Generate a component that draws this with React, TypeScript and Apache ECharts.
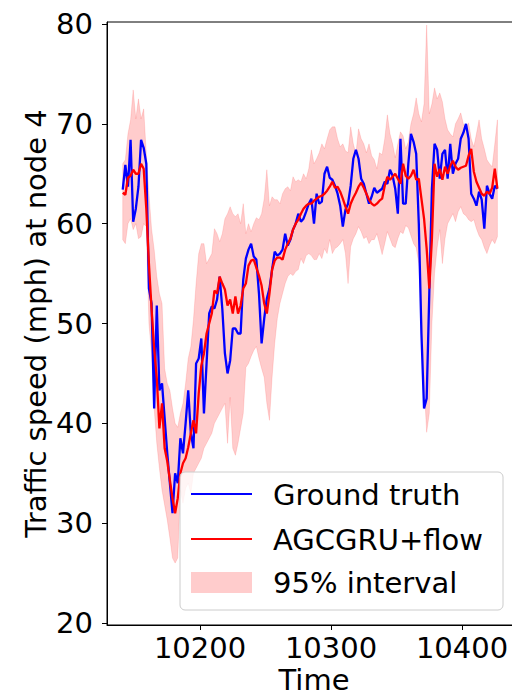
import React, { useEffect, useRef } from "react";
import * as echarts from "echarts";

// Time grid: first time step and spacing between sampled points
const T_START = 10141;
const T_STEP = 2;

const xTicks = [10200, 10300, 10400];
const yTicks = [20, 30, 40, 50, 60, 70, 80];

// Ground truth speed (mph)
const groundTruth = [
  63.4, 65.9, 63.7, 68.4, 60.2, 61.5, 63.7, 68.4, 67.6, 66.0,
  53.5, 52.0, 41.5, 51.8, 43.3, 44.0, 40.5, 37.0, 34.0, 31.0,
  35.0, 34.0, 38.5, 37.0, 40.0, 43.3, 39.0, 37.5, 46.0, 46.5,
  48.5, 41.0, 46.0, 51.0, 51.7, 51.5, 52.4, 54.7, 51.5, 47.0,
  45.0, 46.3, 49.5, 49.5, 49.0, 49.0, 54.4, 56.5, 57.4, 58.0,
  56.7, 56.4, 53.0, 48.0, 50.5, 52.5, 53.5, 55.4, 57.2, 56.8,
  57.0, 57.4, 59.0, 57.8, 58.4, 59.4, 60.0, 61.0, 60.2, 60.5,
  61.2, 62.0, 62.5, 60.0, 63.0, 62.0, 62.2, 65.0, 65.7, 64.6,
  64.4, 63.8, 63.0, 61.8, 59.7, 61.4, 62.0, 63.8, 66.5, 67.4,
  66.5, 64.5, 64.0, 63.0, 62.0, 62.7, 63.6, 63.1, 63.3, 63.5,
  64.2, 64.0, 65.4, 64.8, 63.5, 61.0, 68.5, 62.0, 62.0, 66.0,
  69.0, 68.2, 67.0, 60.0, 49.0, 41.5, 42.5, 53.0, 63.5, 68.0,
  67.4, 64.5, 67.0, 67.4, 64.5, 68.0, 65.0, 66.0, 66.5, 68.5,
  69.1, 70.0, 68.5, 63.0, 62.5, 61.8, 63.2, 62.4, 59.5, 63.8,
  63.0, 62.5, 63.8, 63.5,
];

// AGCGRU+flow prediction (mph)
const prediction = [
  63.1, 62.9, 64.6, 64.8, 65.4, 65.0, 65.0, 66.0, 65.5, 61.5,
  56.0, 51.5, 47.5, 44.5, 39.5, 42.0, 37.5, 36.2, 34.3, 32.5,
  31.0, 32.5, 35.0, 36.0, 36.5, 37.6, 39.0, 40.3, 39.0, 43.0,
  45.8, 47.0, 49.0, 50.0, 51.0, 53.3, 53.0, 54.7, 54.0, 53.4,
  51.8, 52.4, 51.0, 52.7, 51.0, 51.8, 53.5, 54.0, 55.8, 56.3,
  56.4, 55.6, 54.8, 53.8, 52.0, 51.0, 53.0, 55.4, 56.3, 56.6,
  56.6, 56.4, 57.4, 58.0, 58.5, 59.4, 60.0, 60.4, 61.0, 61.5,
  61.8, 62.0, 62.0, 62.3, 62.5, 62.7, 62.8, 63.0, 63.3, 63.7,
  64.2, 63.6, 63.7, 63.2, 62.5, 61.7, 61.0, 62.0, 62.6, 63.1,
  63.7, 64.1, 63.6, 63.0, 62.4, 62.0, 61.8, 62.0, 62.3, 62.5,
  63.8, 64.7, 64.4, 64.7, 65.0, 64.5, 64.0, 66.0, 64.8, 64.5,
  64.8, 65.4, 64.4, 64.5, 62.5, 60.5, 57.5, 53.5, 58.5, 66.0,
  64.7, 65.5, 64.4, 65.7, 65.0, 65.8, 66.3, 65.7, 65.4, 65.6,
  65.7, 65.8, 66.8, 67.5, 65.2, 64.2, 63.6, 63.0, 62.8, 63.2,
  63.0, 63.6, 65.5, 63.5,
];

// 95% interval bounds (mph)
const upperBound = [
  66.0, 66.4, 69.0, 70.4, 73.4, 70.5, 72.5, 70.5, 71.5, 67.0,
  63.0, 59.5, 57.4, 54.7, 53.0, 52.0, 45.5, 44.0, 43.3, 41.5,
  40.0, 39.6, 41.0, 42.0, 44.0, 46.5, 47.7, 50.4, 54.0, 57.0,
  58.0, 58.0, 56.0, 56.5, 57.0, 59.5, 59.0, 58.2, 59.0, 60.5,
  61.0, 61.7, 61.0, 60.7, 61.0, 60.0, 62.0, 59.0, 60.0, 59.2,
  60.0, 60.6, 60.4, 61.0, 62.5, 65.4, 61.8, 62.7, 62.4, 62.4,
  62.0, 63.0, 63.5, 63.7, 63.3, 64.7, 64.2, 64.4, 64.2, 65.0,
  64.5, 65.5, 67.4, 66.0, 66.5, 67.1, 68.0, 67.5, 68.5, 69.4,
  69.7, 69.7, 68.5, 67.7, 68.0, 67.3, 67.1, 69.7, 68.0, 67.0,
  69.5, 68.5, 68.0, 67.1, 68.0, 66.8, 66.4, 65.5, 67.1, 66.9,
  68.5, 70.9, 69.0, 68.0, 66.6, 68.0, 69.2, 68.8, 67.5, 68.2,
  70.0, 71.0, 72.6, 71.0, 70.2, 72.0, 79.9, 71.0, 72.0, 73.6,
  72.5, 73.1, 72.2, 70.5, 69.4, 69.0, 68.7, 70.0, 70.5, 71.1,
  70.0, 69.5, 70.1, 68.5, 67.7, 69.0, 70.4, 68.5, 67.5, 66.4,
  66.0, 65.7, 68.0, 70.4,
];

const lowerBound = [
  58.4, 58.0, 60.0, 60.5, 59.4, 60.0, 58.5, 58.7, 60.0, 59.7,
  50.0, 47.0, 41.5, 38.0, 35.5, 33.3, 31.8, 30.3, 28.5, 26.5,
  26.0, 26.5, 33.3, 32.0, 33.5, 34.0, 33.0, 35.0, 35.5, 36.0,
  36.5, 37.5, 38.0, 38.5, 39.0, 40.0, 40.5, 41.0, 41.5, 42.0,
  38.0, 42.6, 37.5, 36.8, 38.0, 39.5, 41.0, 45.6, 46.0, 46.7,
  47.3, 47.7, 46.5, 45.5, 44.6, 42.0, 40.3, 44.6, 48.0, 50.5,
  52.0, 53.0, 54.0, 54.7, 55.0, 54.8, 55.2, 55.4, 56.5, 56.0,
  56.8, 57.0, 56.8, 56.4, 56.4, 57.0, 56.5, 57.5, 57.0, 58.4,
  57.0, 57.5, 57.7, 58.0, 58.4, 57.0, 54.0, 57.7, 58.5, 59.0,
  59.7, 59.2, 58.5, 58.7, 58.0, 58.4, 58.4, 59.0, 58.0, 56.9,
  58.0, 59.2, 58.5, 57.8, 57.6, 58.5, 59.2, 59.0, 59.8, 59.6,
  58.8, 58.0, 57.6, 56.0, 51.0, 44.0, 39.1, 41.0, 50.0, 55.0,
  57.6, 59.4, 56.0, 58.5, 60.0, 60.5, 61.0, 60.2, 61.2, 61.7,
  61.0, 60.8, 60.4, 60.2, 60.4, 59.5, 58.8, 58.4, 57.6, 57.0,
  57.8, 58.4, 58.0, 58.7,
];

const legendLabels = ["Ground truth", "AGCGRU+flow", "95% interval"];

const FONT = "DejaVu Sans";
const FS = 29;

export default function App() {
  const ref = useRef<HTMLDivElement>(null);

  useEffect(() => {
    if (!ref.current) return;
    const chart = echarts.init(ref.current, null, { renderer: "svg" });
    const times = groundTruth.map((_, i) => T_START + T_STEP * i);
    const pair = (arr: number[]) => arr.map((v, i) => [times[i], v]);
    const bandData = times.map((t, i) => [t, lowerBound[i], upperBound[i]]);

    chart.setOption({
      animation: false,
      backgroundColor: "#ffffff",
      grid: {
        left: 107,
        top: 22,
        width: 414,
        height: 603,
        outerBoundsMode: "none",
        containLabel: false,
        show: true,
        borderColor: "#000",
        borderWidth: 1,
        backgroundColor: "transparent",
      },
      xAxis: {
        type: "value",
        min: 10129,
        max: 10445,
        name: "Time",
        nameLocation: "middle",
        nameGap: 42,
        nameMoveOverlap: false,
        nameTextStyle: { fontFamily: FONT, fontSize: FS, color: "#000", lineHeight: 26 },
        axisLine: { show: true, lineStyle: { color: "#000", width: 1 } },
        axisTick: { show: true, length: 5, customValues: xTicks, lineStyle: { color: "#000" } },
        axisLabel: {
          customValues: xTicks,
          formatter: (v: number) => String(v),
          fontFamily: FONT,
          fontSize: FS,
          lineHeight: 29,
          color: "#000",
          margin: 8,
        },
        splitLine: { show: false },
      },
      yAxis: {
        type: "value",
        min: 19.8,
        max: 80.2,
        name: "Traffic speed (mph) at node 4",
        nameLocation: "middle",
        nameGap: 57,
        nameMoveOverlap: false,
        nameTextStyle: { fontFamily: FONT, fontSize: FS, color: "#000" },
        axisLine: { show: true, lineStyle: { color: "#000", width: 1 } },
        axisTick: { show: true, length: 5, customValues: yTicks, lineStyle: { color: "#000" } },
        axisLabel: {
          customValues: yTicks,
          formatter: (v: number) => String(v),
          fontFamily: FONT,
          fontSize: FS,
          color: "#000",
          margin: 14,
        },
        splitLine: { show: false },
      },
      series: [
        {
          name: legendLabels[2],
          type: "custom",
          data: bandData,
          encode: { x: 0, y: [1, 2] },
          silent: true,
          clip: true,
          z: 1,
          renderItem: (params: any, api: any) => {
            if (params.dataIndex !== 0) return null;
            const top = bandData.map((d) => api.coord([d[0], d[2]]));
            const bottom = bandData.map((d) => api.coord([d[0], d[1]])).reverse();
            return {
              type: "polygon",
              shape: { points: top.concat(bottom) },
              style: {
                fill: "rgba(255,0,0,0.2)",
                stroke: "rgba(255,0,0,0.12)",
                lineWidth: 1,
              },
            };
          },
        },
        {
          name: legendLabels[0],
          type: "line",
          data: pair(groundTruth),
          symbol: "none",
          lineStyle: { color: "#0000ff", width: 2.3 },
          z: 2,
        },
        {
          name: legendLabels[1],
          type: "line",
          data: pair(prediction),
          symbol: "none",
          lineStyle: { color: "#ff0000", width: 2.3 },
          z: 3,
        },
      ],
      graphic: [
        {
          type: "rect",
          z: 100,
          shape: { x: 180, y: 472, width: 323, height: 138, r: 5 },
          style: { fill: "rgba(255,255,255,0.8)", stroke: "#cccccc", lineWidth: 1 },
        },
        {
          type: "line",
          z: 101,
          shape: { x1: 191, y1: 494, x2: 252, y2: 494 },
          style: { stroke: "#0000ff", lineWidth: 2 },
        },
        {
          type: "line",
          z: 101,
          shape: { x1: 191, y1: 539, x2: 252, y2: 539 },
          style: { stroke: "#ff0000", lineWidth: 2 },
        },
        {
          type: "rect",
          z: 101,
          shape: { x: 191, y: 572, width: 61, height: 21 },
          style: { fill: "rgba(255,0,0,0.2)" },
        },
        ...legendLabels.map((t, i) => ({
          type: "text",
          z: 101,
          x: 273,
          y: [495, 540, 583][i],
          style: {
            text: t,
            fontFamily: FONT,
            fontSize: FS,
            fill: "#000",
            verticalAlign: "middle",
            align: "left",
          },
        })),
      ],
    });
    return () => chart.dispose();
  }, []);

  return (
    <div
      ref={ref}
      style={{ position: "fixed", left: 0, top: 0, width: 512, height: 693, background: "#fff" }}
    />
  );
}
